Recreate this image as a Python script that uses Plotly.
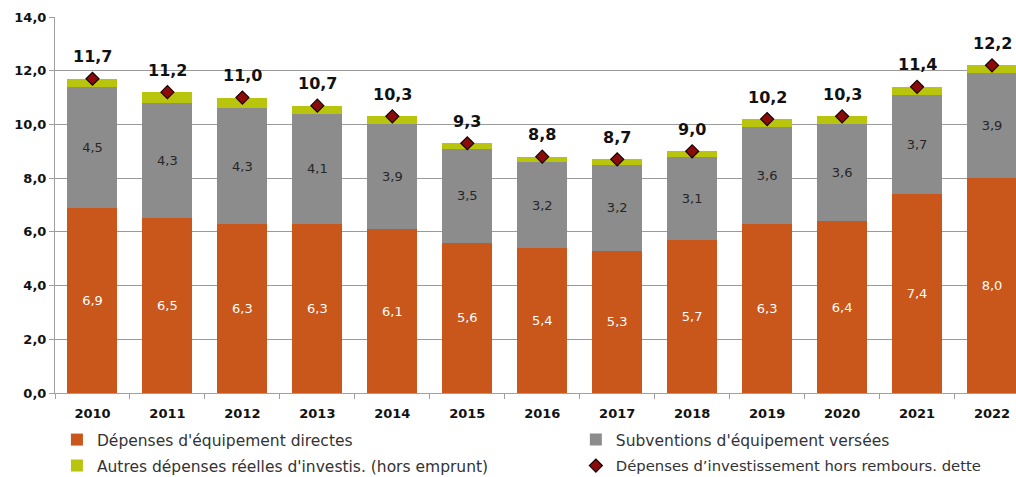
import plotly.graph_objects as go

years = ["2010", "2011", "2012", "2013", "2014", "2015", "2016", "2017", "2018", "2019", "2020", "2021", "2022"]
directes = [6.9, 6.5, 6.3, 6.3, 6.1, 5.6, 5.4, 5.3, 5.7, 6.3, 6.4, 7.4, 8.0]
subventions = [4.5, 4.3, 4.3, 4.1, 3.9, 3.5, 3.2, 3.2, 3.1, 3.6, 3.6, 3.7, 3.9]
autres = [0.3, 0.4, 0.4, 0.3, 0.3, 0.2, 0.2, 0.2, 0.2, 0.3, 0.3, 0.3, 0.3]
totaux = [11.7, 11.2, 11.0, 10.7, 10.3, 9.3, 8.8, 8.7, 9.0, 10.2, 10.3, 11.4, 12.2]

FONT = "DejaVu Sans"
ORANGE = "#C9561A"
GREY = "#8C8C8C"
YELLOW = "#B9C40C"

fig = go.Figure()
fig.add_trace(go.Bar(
    x=years, y=directes, name="Dépenses d'équipement directes",
    marker=dict(color=ORANGE, line=dict(width=0)),
    text=directes, texttemplate="%{text:.1f}", textposition="inside",
    insidetextanchor="middle", textangle=0,
    textfont=dict(color="white", size=13, family=FONT),
    legend="legend",
))
fig.add_trace(go.Bar(
    x=years, y=subventions, name="Subventions d'équipement versées",
    marker=dict(color=GREY, line=dict(width=0)),
    text=subventions, texttemplate="%{text:.1f}", textposition="inside",
    insidetextanchor="middle", textangle=0,
    textfont=dict(color="#262626", size=13, family=FONT),
    legend="legend2",
))
fig.add_trace(go.Bar(
    x=years, y=autres, name="Autres dépenses réelles d'investis. (hors emprunt)",
    marker=dict(color=YELLOW, line=dict(width=0)),
    textposition="none",
    legend="legend3",
))
fig.add_trace(go.Scatter(
    x=years, y=totaux, mode="markers", name="Dépenses d’investissement hors rembours. dette",
    marker=dict(symbol="diamond", size=10, color="#8B0A0A", line=dict(color="#1a0000", width=1.2)),
    legend="legend4",
))

# category axis: annotate by category index (numeric-looking names would be read as indices)
for i, t in enumerate(totaux):
    fig.add_annotation(
        x=i, y=t, xref="x", yref="y", text="<b>" + f"{t:.1f}".replace(".", ",") + "</b>",
        showarrow=False, yshift=22, font=dict(size=16, color="#111111", family=FONT),
    )

def legend_cfg(x, y, size=15.5):
    return dict(
        x=x, y=y, orientation="h", xanchor="left", yanchor="middle",
        font=dict(size=size, family=FONT, color="#333333"),
        bgcolor="rgba(0,0,0,0)",
    )

fig.update_layout(
    width=1016, height=477,
    barmode="stack", bargap=0.333,
    separators=", ",
    plot_bgcolor="white", paper_bgcolor="white",
    margin=dict(l=55, r=0, t=17, b=84, autoexpand=False),
    font=dict(family=FONT, color="#262626"),
    uniformtext=dict(mode="show", minsize=8),
    legend=legend_cfg(0.002, -0.125),
    legend2=legend_cfg(0.542, -0.125),
    legend3=legend_cfg(0.002, -0.194),
    legend4=legend_cfg(0.542, -0.194, 14.8),
    showlegend=True,
)
fig.update_xaxes(
    type="category",
    range=[-0.5, 12.32], showline=True, linecolor="#A0A0A0", linewidth=1,
    ticks="outside", tickson="boundaries", ticklen=5, tickcolor="#A0A0A0",
    tickfont=dict(size=13, family=FONT, color="#111111", weight="bold"),
    ticklabelstandoff=8,
    showgrid=False,
)
fig.update_yaxes(
    range=[0, 14], dtick=2, tickformat=".1f", showline=True, linecolor="#A0A0A0",
    ticks="outside", ticklen=5, tickcolor="#A0A0A0",
    showgrid=True, gridcolor="#9A9A9A", gridwidth=1,
    tickfont=dict(size=13, family=FONT, color="#111111", weight="bold"),
    zeroline=False,
)

fig.write_html("out.html")
